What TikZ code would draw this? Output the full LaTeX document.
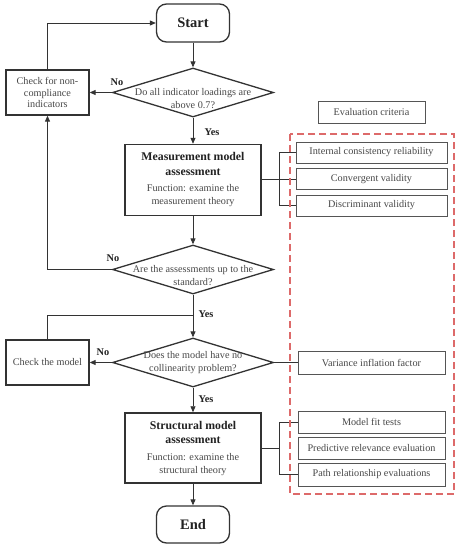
\documentclass[tikz,border=0pt]{standalone}
\usepackage{fontspec}
\setmainfont{Liberation Serif}
\usetikzlibrary{arrows.meta,shapes.geometric}
\definecolor{ln}{HTML}{333333}
\definecolor{tx}{HTML}{484848}
\definecolor{bt}{HTML}{222222}
\definecolor{rd}{HTML}{DD6A6A}
\definecolor{cb}{HTML}{555555}
\newcommand{\hdfont}{\bfseries\fontsize{11.8}{14}\selectfont\color{bt}}
\newcommand{\rgfont}{\mdseries\fontsize{10.2}{14}\selectfont\color{tx}}
\tikzset{
  >={Triangle[length=6pt,width=5pt]},
  conn/.style={draw=ln,line width=0.9pt},
  term/.style={draw=ln,line width=1.3pt,rounded corners=10pt,minimum width=73pt,minimum height=38pt,inner sep=0pt,text=bt,font=\bfseries\fontsize{14.5}{16}\selectfont},
  dia/.style={draw=ln,line width=1.3pt,diamond,minimum width=161pt,minimum height=49pt,inner sep=0pt},
  dtext/.style={align=center,text=tx,font=\fontsize{10.2}{13}\selectfont,inner sep=0pt},
  sbox/.style={draw=ln,line width=1.3pt,minimum width=83pt,minimum height=45pt,inner sep=1pt,align=center,text=tx,font=\fontsize{10.2}{11.5}\selectfont},
  mbox/.style={draw=ln,line width=1.5pt,minimum width=136pt,minimum height=71pt,inner sep=1pt,align=center,text=bt,font=\fontsize{10.2}{14}\selectfont},
  crit/.style={draw=cb,line width=0.8pt,minimum width=151pt,minimum height=21pt,inner sep=0pt,text=tx,font=\fontsize{10.2}{12}\selectfont},
  crit2/.style={crit,minimum width=147pt,minimum height=22pt},
  yn/.style={text=bt,font=\bfseries\fontsize{10.3}{12}\selectfont,inner sep=0pt},
  redbox/.style={draw=rd,line width=1.4pt,dash pattern=on 7pt off 4pt}
}
\begin{document}
\begin{tikzpicture}[x=1pt,y=-1pt]
\useasboundingbox (0,0) rectangle (464,550);
\fill[white] (0,0) rectangle (464,550);
% main flow
\node[term] (start) at (193,23) {Start};
\node[dia] (d1) at (193,92.5) {};
\node[dtext] (d1t) at (193,99) {Do all indicator loadings are\\above 0.7?};
\node[sbox] (chk1) at (47.5,92.5) {Check for non-\\compliance\\indicators};
\node[mbox] (meas) at (193,180) {\hdfont Measurement model\\[1pt]\hdfont assessment\\[2pt]\rgfont Function: examine the\\[-1pt]\rgfont measurement theory};
\node[dia] (d2) at (193,269.5) {};
\node[dtext] (d2t) at (193,276) {Are the assessments up to the\\standard?};
\node[dia] (d3) at (193,362.5) {};
\node[dtext] (d3t) at (193,363) {Does the model have no\\collinearity problem?};
\node[sbox] (chkm) at (47.5,362.5) {Check the model};
\node[mbox,minimum height=70pt] (struct) at (193,448) {\hdfont Structural model\\[1pt]\hdfont assessment\\[2pt]\rgfont Function: examine the\\[-1pt]\rgfont structural theory};
\node[term,minimum height=37pt] (end) at (193,524.5) {End};
% criteria
\node[crit,minimum width=107pt,minimum height=22pt] (evalc) at (371.5,112) {Evaluation criteria};
\node[crit] (c1) at (371.5,152.5) {Internal consistency reliability};
\node[crit] (c2) at (371.5,179) {Convergent validity};
\node[crit] (c3) at (371.5,205.5) {Discriminant validity};
\node[crit2,minimum height=23pt] (vif) at (371.5,362.5) {Variance inflation factor};
\node[crit2] (s1) at (371.5,422) {Model fit tests};
\node[crit2] (s2) at (371.5,448) {Predictive relevance evaluation};
\node[crit2,minimum height=23pt] (s3) at (371.5,474.5) {Path relationship evaluations};
\coordinate (mj) at (279,179.5);
\coordinate (sj) at (279,448);
\coordinate (j2) at (193,315);
% connectors
\draw[conn,->] (start) -- (d1);
\draw[conn,->] (d1.west) -- (chk1.east);
\draw[conn,->] (chk1.north) |- (start.west);
\draw[conn,->] (d1.south) -- (meas.north);
\draw[conn,->] (meas.south) -- (d2.north);
\draw[conn,->] (d2.west) -| (chk1.south);
\draw[conn,->] (d2.south) -- (d3.north);
\draw[conn] (chkm.north) |- (j2);
\draw[conn,->] (d3.west) -- (chkm.east);
\draw[conn] (d3.east) -- (vif.west);
\draw[conn,->] (d3.south) -- (struct.north);
\draw[conn,->] (struct.south) -- (end.north);
\draw[conn] (meas.east |- mj) -- (mj);
\draw[conn] (mj |- c1.west) -- (c1.west);
\draw[conn] (mj |- c2.west) -- (c2.west);
\draw[conn] (mj |- c3.west) -- (c3.west);
\draw[conn] (mj |- c1.west) -- (mj |- c3.west);
\draw[conn] (struct.east) -- (sj);
\draw[conn] (sj |- s1.west) -- (s1.west);
\draw[conn] (sj |- s3.west) -- (s3.west);
\draw[conn] (sj |- s1.west) -- (sj |- s3.west);
% labels
\node[yn] (no1) at (117,82) {No};
\node[yn] (yes1) at (212,132) {Yes};
\node[yn] (no2) at (113,258) {No};
\node[yn] (yes2) at (206,314) {Yes};
\node[yn] (no3) at (103,352) {No};
\node[yn] (yes3) at (206,399) {Yes};
% red dashed frame
\draw[redbox] (290,134) rectangle (454,494);
\end{tikzpicture}
\end{document}
